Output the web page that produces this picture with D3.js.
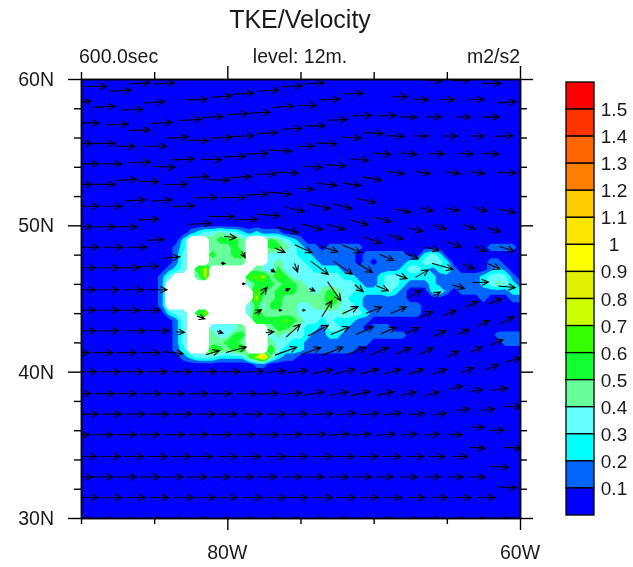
<!DOCTYPE html>
<html>
<head>
<meta charset="utf-8">
<title>TKE/Velocity</title>
<script src="https://cdn.jsdelivr.net/npm/d3@7"></script>
<style>
    html, body { margin: 0; padding: 0; background: #fff; }
    svg { display: block; filter: blur(0.5px); }
    text { font-family: "Liberation Sans", Arial, sans-serif; fill: #1a1a1a; }
</style>
</head>
<body>
<div id="chart"></div>
<script>
// contour levels and the colour of each band (lowest band first)
const tkeLevels = [0.1, 0.2, 0.3, 0.4, 0.5, 0.6, 0.7, 0.8, 0.9, 1, 1.1, 1.2, 1.3, 1.4, 1.5];
const bandColors = ['#0000ff', '#0066ff', '#00ffff', '#66ffff', '#66ff99', '#11ff33', '#33ff00', '#ccff00',
    '#e0f000', '#ffff00', '#ffe600', '#ffcc00', '#ff8000', '#ff6600', '#ff3300', '#ff0000'];

const lonTicksMajor = [-80, -60];
const lonTicksMinor = [-90, -85, -75, -70, -65];
const latTicksMajor = [60, 50, 40, 30];
const latTicksMinor = [58, 56, 54, 52, 48, 46, 44, 42, 38, 36, 34, 32];

// TKE, 0.5 degree cells from 86W and 51N, one char per cell.
// '.' under 0.1, digit n = band n.x, a/b = 1.0x/1.1x, W = missing (white), short rows carry on as '.'
const gridLon0 = -86;
const gridLat0 = 51;
const gridStep = 0.5;
const gridCols = 53;
const tkeRows = [
    "",
    "",
    "",
    ".......1233433212111",
    "......2WWW45554WWW54321",
    ".....12WWW44454WWW5543211.11111.................1111",
    ".....13WWW54455WWW3333221111" + "11.111111..232",
    ".....13WWW44444WWW3433322" + "11111.1.111122333" + "2.....11",
    "....123W57WWWWWW43353333" + "2222" + "11111111" + "23321231" + "...." + "121",
    "...13WWW47WWWWW667465" + "3333333" + "22" + "111" + "2" + "33" + "22222" + "111111" + "2" + "333" + "1",
    "...1WWWWWWWWWWW3555455" + "4" + "3333333" + "2" + "11" + "2" + "33" + "2" + "111" + "2" + "1" + "11111" + "2" + "343" + "21",
    "...1WWWWWWWWWWWW654555" + "44" + "3" + "4" + "5" + "4" + "33" + "2222" + "3" + "2" + "1" + "..." + "23" + "1" + "." + "1111111" + "22",
    "...1WWWWWWWWWWWW7445444444" + "65" + "3" + "22" + "1" + "11111" + ".........." + "1" + "..." + "11",
    "...1WWWWWWWWWWW3535544334454332" + "11111111",
    "....233W57WWWWW3644444" + "333333" + "4" + "33" + "2" + "1111111",
    ".....13WWWWWWWWW55556" + "5" + "4" + "33" + "2" + "3" + "222" + "11",
    ".....13WWW33334WWW4554" + "322" + "1" + "33" + "2" + "11" + "." + "111",
    ".....13WWW43355WWW34333" + "2" + "11" + "22" + "111111111" + "............" + "1111",
    ".....13WWW44554WWW43322" + "111111111" + ".................." + "111",
    ".....12WWW65456WWW63222" + "1111111",
    "......1233322225" + "7b4211",
    "................11",
    ""
];

// wind vectors: [lon, lat, speed, direction in degrees, 0 = east, 90 = north]
const windVectors = [
    [-89,59.5,11,0],[-87.3,59.2,10.5,3],[-86,59.7,10.5,3],[-84.3,59.7,10.5,3],
    [-90,58.4,10,8],[-88.4,58.1,10.5,3],[-86.5,57.9,10.5,3],[-85,58.4,10.5,3],[-82.1,58.6,11,2],[-80.4,58.8,10.5,4],[-78.9,59,10.5,3],[-77.2,59.2,10.5,3],[-75.6,59.5,10.5,3],[-74.1,59.7,10.5,3],[-71.4,59,10,2],[-65.9,59.9,8.5,-3],[-64,59.9,8.5,3],[-61.9,59.7,9,0],
    [-89.4,57,9,0],[-87.5,56.9,10.5,2],[-86,56.5,10.5,2],[-84.5,57,10.5,3],[-82.5,57.2,10.5,3],[-81,57.4,10.5,3],[-79.3,57.6,10.5,3],[-77.8,57.7,10.5,2],[-76.2,58.1,10.5,4],[-74.5,58.2,8.5,1],[-73,58.6,10,2],[-68.2,58.8,7.5,1],[-66.8,58.6,7.5,-2],[-65,58.6,7.5,-2],[-63,58.6,7.5,2],[-60.9,58.4,9.5,3],
    [-89.9,55.6,10,0],[-88.4,55.6,10.5,0],[-87,55.4,10,-2],[-84.9,55.4,10.5,0],[-83.4,56,10.5,3],[-82,55.8,10.5,-1],[-80.4,56,10.5,3],[-78.9,56.1,10.5,2],[-77.3,56.3,10.5,3],[-75.6,56.6,10,3],[-74,56.8,10,0],[-72.5,57.2,10,2],[-70.8,57.5,9.5,2],[-69.1,57.5,9,1],[-67.6,57.4,8,-1],[-65.9,57.4,7.5,0],[-63.9,57.4,7.5,0],[-62,57.4,8.5,1],
    [-89.4,54.2,9,0],[-87.9,54.2,10,0],[-86,54.3,10.5,2],[-84.3,54,10.5,-2],[-83,54.5,11,2],[-81.1,54.5,10.5,-1],[-79.5,54.7,11,3],[-78,54.9,11,2],[-76.4,55.1,11.5,-2],[-74.6,55.4,7.5,2],[-73.2,55.6,10,-3],[-71.5,56,9.5,-3],[-70,56.3,9.5,-3],[-68.5,56.1,8.5,-3],[-66.8,56.1,7.5,0],[-64.8,56.1,7.5,0],[-62.9,56.1,7,0],[-61.1,56.1,9,2],
    [-89.9,52.8,10,0],[-88.4,52.8,10.5,0],[-86.9,53.1,10.5,3],[-85.4,53,10.5,-1],[-83.5,52.8,11,2],[-82,53.3,11,2],[-80.6,53.1,11,-1],[-79.1,53.3,11,2],[-77.4,53.5,11,2],[-75.9,53.6,11,-3],[-74.2,54,10,-3],[-72.6,54.1,10,-4],[-71,54.5,9.5,-6],[-69.4,54.9,8.5,-5],[-67.6,54.9,8,-5],[-65.7,54.9,7.5,-2],[-63.7,54.9,7,-2],[-62,54.9,8,-2],
    [-89.4,51.3,9,0],[-87.9,51.3,10,0],[-86.3,51.7,10.5,3],[-84.5,51.7,10.5,3],[-83,51.3,11,3],[-81.5,51.9,11.5,1],[-79.6,51.9,12,0],[-78,52.1,11.5,3],[-76.4,52.2,11.5,-5],[-74.6,52.5,7.5,-6],[-73.2,52.8,10,-6],[-71.5,52.8,9,-8],[-70.1,53.2,9.5,-10],[-68.5,53.6,8.5,-9],[-66.6,53.6,7,-10],[-64.6,53.6,7,-10],[-62.9,53.6,7,-10],[-60.9,53.6,9.5,-2],
    [-89.9,49.9,10,0],[-88.4,49.9,10.5,0],[-86.9,49.9,10.5,0],[-85.4,50.4,10.5,2],[-81.9,50.1,11.5,2],[-80.4,50.6,12.5,-1],[-78.7,50.4,11,1],[-77.2,50.7,11.5,-4],[-75.4,51.1,10,-13],[-73.7,51.3,11,-13],[-72.1,51.3,9.5,-14],[-70.5,51.7,9.5,-12],[-68,51,7.5,-14],[-66.4,51.1,7,-14],[-64.6,51.1,6.5,-14],[-62.7,51.1,7,-16],[-60.9,51,8.5,-13],
    [-89.4,48.5,9,0],[-87.8,48.5,10,0],[-86.2,48.5,10,0],[-84.9,49,8.5,2],[-79.8,49.2,6,-5],[-75.9,49.7,11,-15],[-74.2,49.9,10.5,-16],[-72.6,49.9,9.5,-16],[-71,50.2,9.5,-15],[-69.4,50.4,8.5,-15],[-67.1,49.7,7,-15],[-65.5,49.9,7,-17],[-63.5,49.9,6.5,-18],[-61.8,49.7,7,-18],
    [-78.9,48,3.5,-60],[-76.4,48.3,5.5,-25],[-74.8,48.4,9.5,-25],[-73.1,48.4,10,-18],[-71.5,48.4,10,-22],[-70.1,49,9.5,-20],[-68.5,49.2,7.5,-17],[-66,48.4,7,-13],[-64.5,48.7,7.5,-20],[-62.7,48.4,6.5,-22],[-60.9,48.4,7.5,-18],
    [-89.6,47.1,9,0],[-88.1,47.1,10,0],[-86.7,47.1,10,0],[-85.4,47.2,10,2],[-83.8,47.8,8,5],[-80.3,47.4,2,0],[-76.9,46.9,2.5,-30],[-75.3,47.1,4.5,-70],[-73.7,47.1,11,-37],[-72.1,47.1,11.5,-35],[-70.6,47.1,9,-32],[-69.1,47.8,7.5,-23],[-67.4,47.9,7,-23],[-65.3,47.2,11,-16],[-63.5,47.2,6,-23],[-61.8,47.2,7,-23],
    [-89.6,45.6,9,0],[-88.1,45.6,10,0],[-86.4,45.6,10,0],[-84.8,45.6,10,0],[-78.9,46,1.5,0],[-77.5,45.5,5,50],[-75.9,45.6,2.5,20],[-74.2,45.6,3,-25],[-72.7,45.5,11.5,-55],[-71,45.7,5.5,-40],[-69.4,45.7,6.5,-22],[-68.1,46.5,6,-20],[-66.7,46.7,7.5,30],[-64.2,45.8,6,-16],[-62.7,46.1,8,3],[-60.9,45.8,8.5,-5],
    [-89.6,44.2,9,0],[-88.1,44.2,10,0],[-86.7,44.2,10,0],[-85.3,44.2,10,0],[-81.8,43.7,4,-20],[-77.9,44.1,4,30],[-76.4,44.2,1.5,0],[-74.8,44.2,1.5,0],[-73.2,44.3,9.5,58],[-71.6,44.2,8.5,25],[-70,44.2,8.5,22],[-68.3,44.2,8.5,23],[-67.2,45.3,7.5,30],[-65.7,45.3,4.5,30],[-66.4,43.9,7,25],[-64.8,44,7,23],[-63.3,44.6,7,24],[-61.7,44.8,7.5,23],
    [-89.6,42.8,9,0],[-88.1,42.8,10,0],[-86.3,42.8,10,0],[-84.7,42.8,10,0],[-83.2,42.7,4,-5],[-80.5,42.7,3,-20],[-77.1,42.7,4,5],[-75.5,42.8,9.5,42],[-73.8,42.8,11.5,28],[-72.3,42.8,10,22],[-70.6,42.8,9.5,24],[-69,42.8,8.5,23],[-67.4,42.8,7.5,25],[-65.5,42.6,7,26],[-63.9,42.7,7,25],[-62.5,43.3,6.5,27],[-60.9,43.5,8,27],
    [-90.1,41.3,10,0],[-88.5,41.3,10,0],[-86.9,41.3,10,0],[-85.3,41.3,10,0],[-83.7,41.3,10,-6],[-81,41.3,7,17],[-79.4,41.5,10.5,15],[-76,41.4,11.5,20],[-74.3,41.4,10.5,20],[-72.8,41.4,11,21],[-71.2,41.4,10.5,20],[-69.6,41.4,9.5,23],[-68,41.4,8.5,23],[-66.4,41.4,7.5,26],[-64.6,41.2,6.5,27],[-63,41.5,6.5,26],[-61.6,42,7,25],
    [-89.6,40,10,0],[-88,40,10,0],[-86.4,40,10,0],[-84.8,40,10,0],[-83.1,40,10,0],[-81.4,40,10,0],[-79.8,40,10,0],[-78.2,40,10,3],[-76.7,40,10,5],[-75.2,40,10,7],[-73.5,40,10.5,12],[-72,40,10.5,13],[-70.3,40,9.5,15],[-68.7,40,8.5,16],[-67.1,40,8,18],[-65.5,40,7.5,20],[-63.6,40.1,6.5,22],[-61.9,40.3,6.5,20],[-60.5,40.8,8,15],
    [-90,38.5,10,0],[-88.4,38.5,10,0],[-86.9,38.5,10,0],[-85.2,38.5,10,0],[-83.6,38.5,10,0],[-82,38.5,10,0],[-80.4,38.5,10,0],[-78.7,38.5,10,2],[-77.2,38.5,10,3],[-75.6,38.5,10,5],[-74.1,38.5,11,10],[-72.4,38.5,10,9],[-70.9,38.5,9.5,12],[-69.2,38.5,8.5,12],[-67.6,38.5,7.5,13],[-66,38.5,7,15],[-64.4,38.9,7,14],[-63,38.7,6.5,10],[-61.4,38.8,8,9],
    [-89.5,37.1,10,0],[-87.9,37.1,10,0],[-86.3,37.1,10,0],[-84.7,37.1,10,0],[-83.1,37.1,10,0],[-81.5,37.1,10,0],[-80,37.1,10,0],[-78.3,37.1,10,0],[-76.7,37.1,10,1],[-75.2,37.1,10,2],[-73.5,37.1,10.5,3],[-71.9,37.1,10,5],[-70.3,37.1,9.5,5],[-68.7,37.1,8.5,5],[-67.1,37.1,8,5],[-65.5,37.1,7,7],[-63.9,37.4,6.5,7],[-62.2,37.4,7,6],[-60.5,37.6,8.5,0],
    [-90.1,35.7,10,0],[-88.5,35.7,10,0],[-86.9,35.7,10,0],[-85.3,35.7,10,0],[-83.6,35.7,10,0],[-82,35.7,10,0],[-80.4,35.7,10,0],[-78.8,35.7,10,0],[-77.2,35.7,10,0],[-75.6,35.7,10,1],[-74,35.7,10.5,3],[-72.4,35.7,10.5,4],[-70.9,35.7,10,4],[-69.2,35.7,9.5,4],[-67.6,35.7,8,3],[-66,35.7,7,3],[-64.4,35.7,6.5,0],[-62.9,36.2,6.5,0],[-61.6,36,7.5,0],
    [-89.6,34.2,10,0],[-88,34.2,10,0],[-86.4,34.2,10,0],[-84.8,34.2,10,0],[-83.2,34.2,10,0],[-81.7,34.2,10,0],[-80,34.2,10,0],[-78.4,34.2,10,0],[-76.7,34.2,10,0],[-75.2,34.2,10,0],[-73.5,34.2,10,0],[-72,34.2,10,0],[-70.4,34.2,10,0],[-68.8,34.2,9.5,0],[-67.2,34.2,9,0],[-65.7,34.2,8,0],[-64.1,34.2,7.5,0],[-62.9,34.8,7.5,-3],[-60.5,34.8,8.5,-3],
    [-89.9,32.8,10,0],[-88.5,32.8,10,0],[-86.9,32.8,10,0],[-85.3,32.8,10,0],[-83.7,32.8,10,0],[-82.1,32.8,10,0],[-80.5,32.8,10,0],[-78.9,32.8,10,0],[-77.3,32.8,10,0],[-75.6,32.8,10,0],[-74.1,32.8,10,0],[-72.4,32.8,9.5,0],[-70.8,32.8,9.5,0],[-69.3,32.8,9,0],[-67.6,32.8,8.5,0],[-66,32.8,8,0],[-64.4,32.8,7.5,0],[-62.9,32.8,7.5,0],[-61.4,33.5,9,-3],
    [-89.5,31.4,10,0],[-87.9,31.4,10,0],[-86.3,31.4,10,0],[-84.7,31.4,10,0],[-83,31.4,10,0],[-81.5,31.4,10,0],[-80,31.4,10,0],[-78.3,31.4,10,0],[-76.7,31.4,10,0],[-75.2,31.4,10,0],[-73.5,31.4,10,0],[-71.9,31.4,9.5,0],[-70.3,31.4,9.5,0],[-68.7,31.4,9,0],[-67.1,31.4,8.5,0],[-65.5,31.4,8,0],[-63.9,31.4,8,0],[-62.3,31.4,8.5,0],[-60.9,32.1,10,-3],
    [-89.9,29.9,10,0],[-88.4,29.9,10,0],[-86.8,29.9,10,0],[-85.1,29.9,10,0],[-83.6,29.9,10,0],[-82,29.9,10,0],[-80.4,29.9,10,0],[-78.8,29.9,10,0],[-77.2,29.9,10,0],[-75.6,29.9,10,0],[-74,29.9,10,0],[-72.4,29.9,10,0],[-70.9,29.9,10,0],[-69.3,29.9,10,0],[-67.6,29.9,10,0],[-66.1,29.9,10,0],[-64.4,29.9,10,0],[-62.9,29.9,10,0],[-61.3,29.9,10,0]
];

const width = 633;
const height = 567;

const svg = d3.select('#chart').append('svg')
    .attr('width', width)
    .attr('height', height);

const x = d3.scaleLinear().domain([-90, -60]).range([81, 520]);
const y = d3.scaleLinear().domain([60, 30]).range([79, 518]);
const speedLength = d3.scaleLinear().domain([0, 10]).range([0, 20]);

svg.append('defs').append('clipPath').attr('id', 'plot-clip')
    .append('rect')
    .attr('x', x.range()[0]).attr('y', y.range()[0])
    .attr('width', x.range()[1] - x.range()[0])
    .attr('height', y.range()[1] - y.range()[0]);

const plot = svg.append('g').attr('clip-path', 'url(#plot-clip)');

// lowest band fills the whole map
plot.append('rect')
    .attr('x', x.range()[0]).attr('y', y.range()[0])
    .attr('width', x.range()[1] - x.range()[0])
    .attr('height', y.range()[1] - y.range()[0])
    .attr('fill', bandColors[0]);

// expand the rows into flat grids for d3.contours
function cellValue(ch) {
    if (ch === 'W') return 0.45; // what sits under the white hole
    if (ch === '.') return 0.05;
    if (ch === 'a') return 1.05;
    if (ch === 'b') return 1.15;
    return +ch / 10 + 0.05;
}
const gridValues = [];
const gridMask = [];
tkeRows.forEach(row => {
    const full = row.padEnd(gridCols, '.');
    for (let i = 0; i < gridCols; i++) {
        gridValues.push(cellValue(full[i]));
        gridMask.push(full[i] === 'W' ? 1 : 0);
    }
});

// d3.contours puts cell i at i + 0.5
const gridPath = d3.geoPath(d3.geoTransform({
    point: function (gx, gy) {
        this.stream.point(
            x(gridLon0 + (gx - 0.5) * gridStep),
            y(gridLat0 - (gy - 0.5) * gridStep)
        );
    }
}));

const contours = d3.contours()
    .size([gridCols, tkeRows.length])
    .thresholds(tkeLevels)(gridValues);

plot.selectAll('path.band')
    .data(contours)
    .join('path')
    .attr('class', 'band')
    .attr('d', gridPath)
    .attr('fill', (d, i) => bandColors[i + 1]);

const hole = d3.contours()
    .size([gridCols, tkeRows.length])
    .thresholds([0.5])(gridMask);

plot.selectAll('path.hole')
    .data(hole)
    .join('path')
    .attr('class', 'hole')
    .attr('d', gridPath)
    .attr('fill', '#fff');

// wind arrows, centred on their point
function arrowPath(d) {
    const len = speedLength(d[2]);
    const a = -d[3] * Math.PI / 180;
    const cx = x(d[0]);
    const cy = y(d[1]);
    const tipX = cx + Math.cos(a) * len / 2;
    const tipY = cy + Math.sin(a) * len / 2;
    const tailX = cx - Math.cos(a) * len / 2;
    const tailY = cy - Math.sin(a) * len / 2;
    const barb = Math.min(7.5, len * 0.8);
    const b1 = a + Math.PI - 0.44;
    const b2 = a + Math.PI + 0.44;
    return `M${tailX},${tailY}L${tipX},${tipY}` +
        `M${tipX + Math.cos(b1) * barb},${tipY + Math.sin(b1) * barb}L${tipX},${tipY}` +
        `L${tipX + Math.cos(b2) * barb},${tipY + Math.sin(b2) * barb}`;
}

plot.selectAll('path.wind')
    .data(windVectors)
    .join('path')
    .attr('class', 'wind')
    .attr('d', arrowPath)
    .attr('fill', 'none')
    .attr('stroke', '#000')
    .attr('stroke-width', 1.1);

// frame and ticks, all outside the map
function drawAxis(axis, tx, ty) {
    const g = svg.append('g').attr('transform', `translate(${tx},${ty})`).call(axis);
    g.select('.domain').attr('stroke', '#000').attr('stroke-width', 1.5);
    g.selectAll('.tick line').attr('stroke', '#000').attr('stroke-width', 1.4);
    g.selectAll('.tick text').remove();
    return g;
}

const xAxis = (make, size, vals) => make(x).tickValues(vals).tickSize(size).tickSizeOuter(0).tickFormat('');
const yAxis = (make, size, vals) => make(y).tickValues(vals).tickSize(size).tickSizeOuter(0).tickFormat('');

drawAxis(xAxis(d3.axisTop, 13, lonTicksMajor), 0, 79);
drawAxis(xAxis(d3.axisTop, 7, lonTicksMinor), 0, 79);
drawAxis(xAxis(d3.axisBottom, 12, lonTicksMajor), 0, 518);
drawAxis(xAxis(d3.axisBottom, 6, lonTicksMinor), 0, 518);
drawAxis(yAxis(d3.axisLeft, 13, latTicksMajor), 81, 0);
drawAxis(yAxis(d3.axisLeft, 7, latTicksMinor), 81, 0);
drawAxis(yAxis(d3.axisRight, 13, latTicksMajor), 520, 0);
drawAxis(yAxis(d3.axisRight, 7, latTicksMinor), 520, 0);

// tick labels
svg.selectAll('text.lat')
    .data(latTicksMajor)
    .join('text')
    .attr('class', 'lat')
    .attr('x', 54)
    .attr('y', d => y(d) + 7)
    .attr('text-anchor', 'end')
    .attr('font-size', 19.5)
    .text(d => d + 'N');

svg.selectAll('text.lon')
    .data(lonTicksMajor)
    .join('text')
    .attr('class', 'lon')
    .attr('x', d => x(d))
    .attr('y', 559)
    .attr('text-anchor', 'middle')
    .attr('font-size', 19.5)
    .text(d => -d + 'W');

// titles
svg.append('text')
    .attr('x', 300).attr('y', 28)
    .attr('text-anchor', 'middle')
    .attr('font-size', 25)
    .text('TKE/Velocity');

svg.append('text')
    .attr('x', 79).attr('y', 63)
    .attr('font-size', 19.5)
    .text('600.0sec');

svg.append('text')
    .attr('x', 300).attr('y', 63)
    .attr('text-anchor', 'middle')
    .attr('font-size', 19.5)
    .text('level: 12m.');

svg.append('text')
    .attr('x', 520).attr('y', 63)
    .attr('text-anchor', 'end')
    .attr('font-size', 19.5)
    .text('m2/s2');

// colour bar, highest band on top
const barBands = d3.range(bandColors.length).reverse();
const barY = d3.scaleBand().domain(barBands).range([82, 515]);

svg.selectAll('rect.bar')
    .data(barBands)
    .join('rect')
    .attr('class', 'bar')
    .attr('x', 566)
    .attr('y', d => barY(d))
    .attr('width', 28)
    .attr('height', barY.bandwidth())
    .attr('fill', d => bandColors[d])
    .attr('stroke', '#000')
    .attr('stroke-width', 1.3);

svg.selectAll('text.bar-label')
    .data(tkeLevels)
    .join('text')
    .attr('class', 'bar-label')
    .attr('x', 614)
    .attr('y', (d, i) => barY(i) + 7)
    .attr('text-anchor', 'middle')
    .attr('font-size', 19)
    .text(d => d);
</script>
</body>
</html>
